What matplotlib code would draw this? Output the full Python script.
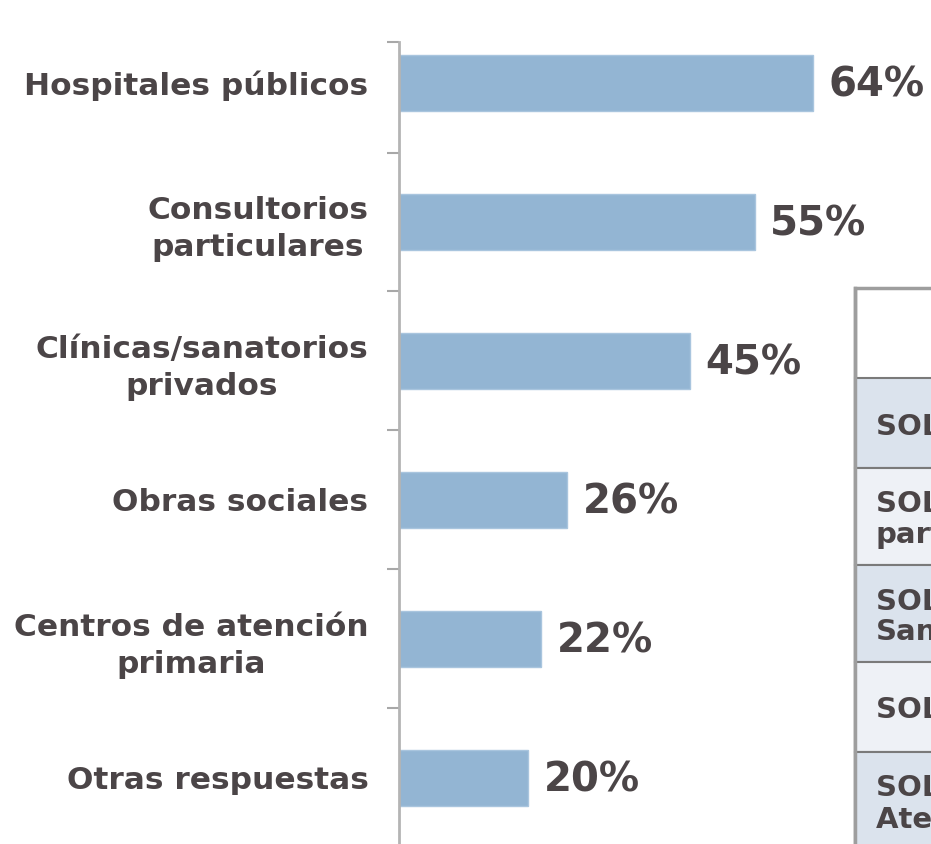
import matplotlib.pyplot as plt
from matplotlib.patches import Rectangle

categories = ['Hospitales públicos', 'Consultorios\nparticulares', 'Clínicas/sanatorios\nprivados',
              'Obras sociales', 'Centros de atención\nprimaria', 'Otras respuestas']
values = [64, 55, 45, 26, 22, 20]
table_rows = ['SOLO Hospitales públicos', 'SOLO Consultorios\nparticulares', 'SOLO Clínicas/\nSanatorios',
              'SOLO Obras sociales', 'SOLO Centros de\nAtención primaria']

text_col = '#4b4547'
bar_col = '#93b5d3'
W, H = 931, 844


def fx(px):
    return px / W


def fy(py):
    return 1 - py / H


def main():
    plt.rcParams['font.family'] = 'DejaVu Sans'
    fig = plt.figure(figsize=(9.31, 8.44), dpi=100)

    # bar chart area, left spine at x=399
    ax = fig.add_axes([fx(399), 0, 1 - fx(399), fy(42)])
    y = list(range(len(categories)))
    ax.barh(y, values, height=0.4, color=bar_col, edgecolor='#a9c5de', linewidth=1)
    ax.set_ylim(5.475, -0.295)
    ax.set_xlim(0, (W - 399) / 6.47)

    for yi, v in zip(y, values):
        ax.text(v + 2.4, yi + 0.02, f'{v}%', va='center', ha='left', fontsize=29,
                fontweight='bold', color=text_col)

    ax.set_yticks(y)
    ax.set_yticklabels(categories, fontsize=22.5, fontweight='bold', color=text_col,
                       multialignment='center', linespacing=1.35)
    ax.set_yticks([-0.295, 0.5, 1.5, 2.5, 3.5, 4.5], minor=True)
    ax.tick_params(axis='y', which='major', length=0, pad=22)
    ax.tick_params(axis='y', which='minor', length=9, width=1.5, color='#a8a8a8')
    ax.set_xticks([])
    for s in ['top', 'right', 'bottom']:
        ax.spines[s].set_visible(False)
    ax.spines['left'].set_color('#b4b4b4')
    ax.spines['left'].set_linewidth(2)

    # cropped table on the right
    edges = [378, 468, 565, 662, 752, 850]
    fills = ['#dbe3ed', '#eef1f6', '#dbe3ed', '#eef1f6', '#dbe3ed']
    fig.patches.append(Rectangle((fx(855), fy(850)), fx(W + 20 - 855), fy(288) - fy(850),
                                 transform=fig.transFigure, facecolor='white',
                                 edgecolor='#9e9e9e', linewidth=2.5, zorder=1))
    for i, txt in enumerate(table_rows):
        top, bot = edges[i], edges[i + 1]
        fig.patches.append(Rectangle((fx(855), fy(bot)), fx(W + 20 - 855), fy(top) - fy(bot),
                                     transform=fig.transFigure, facecolor=fills[i],
                                     edgecolor='#7a7a7a', linewidth=1.5, zorder=2))
        fig.text(fx(876), fy((top + bot) / 2 + 3), txt, ha='left', va='center', fontsize=21,
                 fontweight='bold', color=text_col, linespacing=1.1, zorder=3)
    fig.add_artist(plt.Line2D([fx(855), fx(855)], [fy(288), 0], color='#9e9e9e',
                              linewidth=2.5, transform=fig.transFigure, zorder=4))

    fig.savefig('out.png', dpi=100)


if __name__ == "__main__":
    main()
